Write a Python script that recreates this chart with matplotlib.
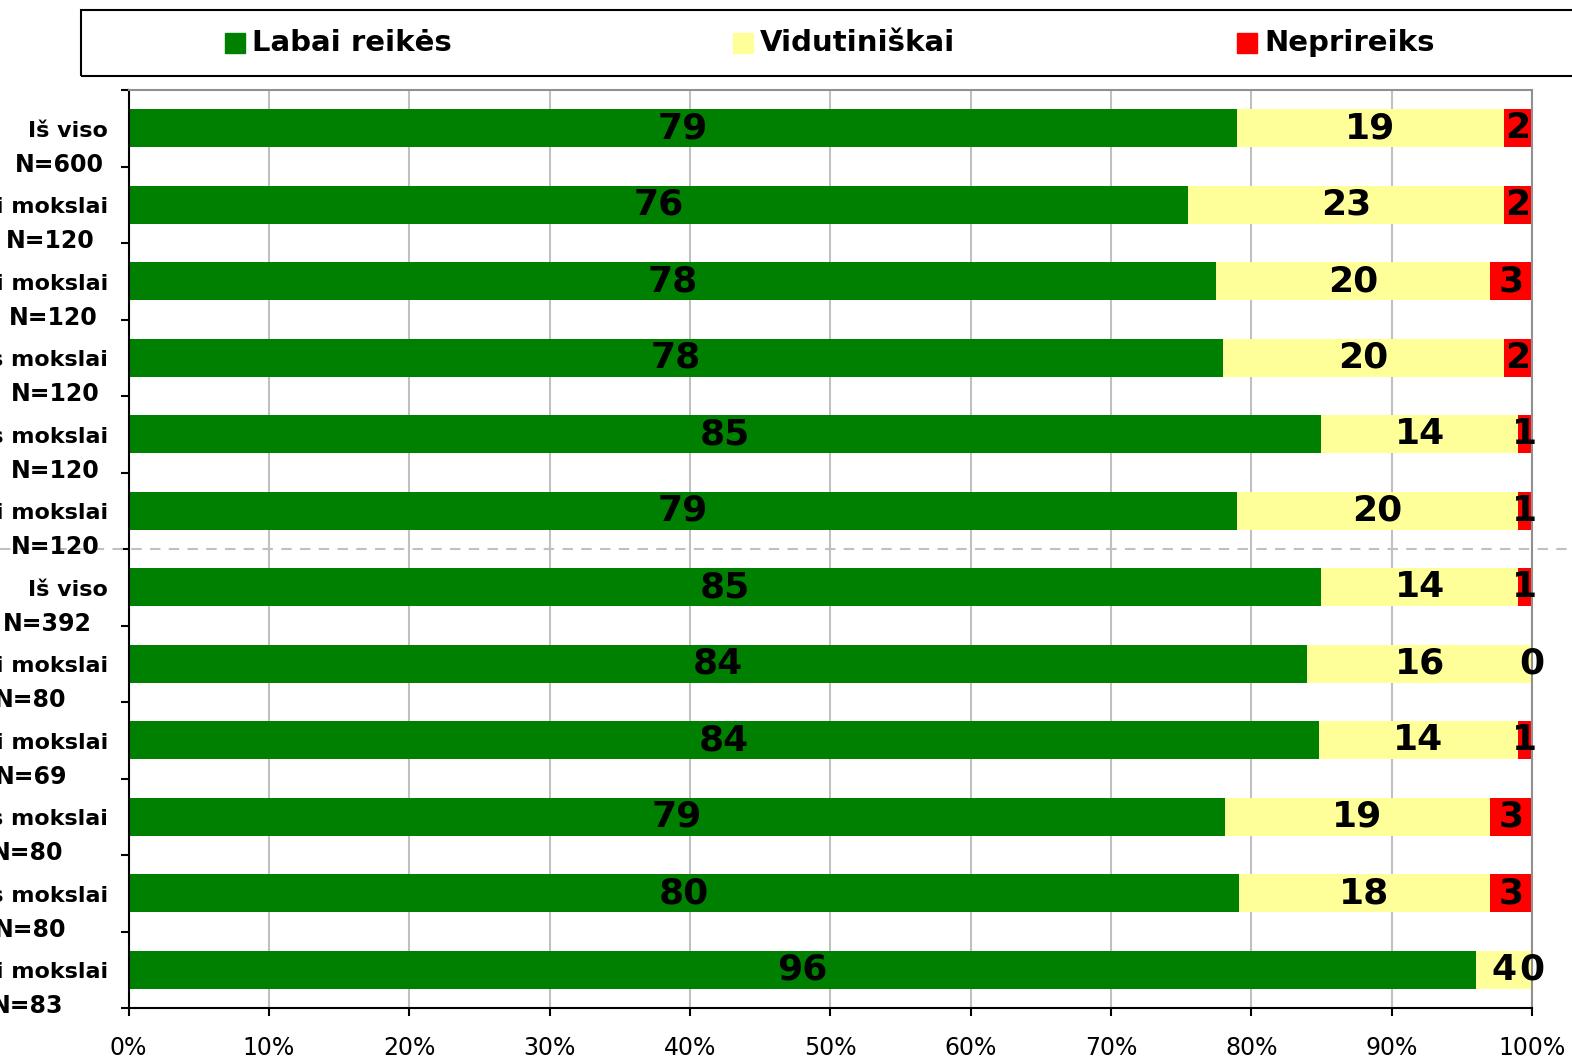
import matplotlib
matplotlib.use("Agg")
import matplotlib.pyplot as plt
from matplotlib.patches import Rectangle
from matplotlib.transforms import offset_copy

# Data
row_names = ["Iš viso", "Humanitariniai mokslai", "Socialiniai mokslai",
             "Biomedicinos mokslai", "Technologijos mokslai", "Fiziniai mokslai",
             "Iš viso", "Humanitariniai mokslai", "Socialiniai mokslai",
             "Biomedicinos mokslai", "Technologijos mokslai", "Fiziniai mokslai"]
row_n = ["N=600", "N=120", "N=120", "N=120", "N=120", "N=120",
         "N=392", "N=80", "N=69", "N=80", "N=80", "N=83"]

series = ["Labai reikės", "Vidutiniškai", "Neprireiks"]
colors = ["#008000", "#FFFF99", "#FF0000"]

# bar lengths (%)
labai = [79.0, 75.5, 77.5, 78.0, 85.0, 79.0, 85.0, 84.0, 84.8, 78.1, 79.1, 96.0]
vidut = [19.0, 22.5, 19.5, 20.0, 14.0, 20.0, 14.0, 16.0, 14.2, 18.9, 17.9, 4.0]
nepri = [2.0, 2.0, 3.0, 2.0, 1.0, 1.0, 1.0, 0.0, 1.0, 3.0, 3.0, 0.0]

# printed (rounded) labels
labai_lbl = [79, 76, 78, 78, 85, 79, 85, 84, 84, 79, 80, 96]
vidut_lbl = [19, 23, 20, 20, 14, 20, 14, 16, 14, 19, 18, 4]
nepri_lbl = [2, 2, 3, 2, 1, 1, 1, 0, 1, 3, 3, 0]

W, H = 1572, 1059
fig = plt.figure(figsize=(W / 100, H / 100), dpi=100)
ax = fig.add_axes([128.5 / W, 1 - 1008 / H, 1403.5 / W, (1008 - 90) / H])

y = list(range(len(row_names)))
left = [0] * len(y)
blocks = [(labai, labai_lbl), (vidut, vidut_lbl), (nepri, nepri_lbl)]
for (vals, lbls), col, name in zip(blocks, colors, series):
    bars = ax.barh(y, vals, left=left, height=0.5, color=col, label=name, zorder=2)
    ax.bar_label(bars, labels=[str(v) for v in lbls], label_type="center",
                 fontsize=26, fontweight="bold", color="black", zorder=3)
    left = [a + b for a, b in zip(left, vals)]

ax.set_xlim(0, 100)
ax.set_ylim(len(y) - 0.5, -0.5)
ax.set_xticks(range(0, 101, 10))
ax.set_xticklabels([f"{v}%" for v in range(0, 101, 10)], fontsize=17)
ax.set_yticks([i - 0.5 for i in range(len(y) + 1)])
ax.set_yticklabels([])
ax.tick_params(axis="both", direction="out", length=6, width=1.5, color="black")
ax.tick_params(axis="x", pad=14)
ax.grid(axis="x", color="#c0c0c0", linewidth=1.5, zorder=0)
ax.set_axisbelow(True)

for s in ["left", "bottom"]:
    ax.spines[s].set_color("black")
    ax.spines[s].set_linewidth(1.5)
for s in ["top", "right"]:
    ax.spines[s].set_color("#909090")
    ax.spines[s].set_linewidth(1.5)

# two-line row labels
n_right_px = [104, 95, 98, 100, 100, 100, 92, 66, 67, 63, 66, 63]
trans = ax.get_yaxis_transform()
t2 = offset_copy(trans, fig=fig, y=-34, units="dots")
for i, (name, n) in enumerate(zip(row_names, row_n)):
    ax.text((108 - 128.5) / 1403.5, i + 0.03, name, transform=trans, ha="right",
            va="center", fontsize=16, fontweight="bold", clip_on=False)
    ax.text((n_right_px[i] - 128.5) / 1403.5, i + 0.03, n, transform=t2, ha="right",
            va="center", fontsize=17, fontweight="bold", clip_on=False)

# dashed separator between groups
ax.axhline(5.5, xmin=-128.5 / 1403.5, xmax=(W - 128.5) / 1403.5, color="#c0c0c0",
           linestyle=(0, (5, 4)), linewidth=1.5, clip_on=False, zorder=1)

# legend box
fig.add_artist(Rectangle((81 / W, 1 - 76 / H), (W + 20 - 81) / W, 66 / H,
                         transform=fig.transFigure, fill=False, ec="black",
                         lw=1.5, clip_on=False))
for x0, col, name in zip([225, 733, 1237], colors, series):
    fig.add_artist(Rectangle((x0 / W, 1 - 53 / H), 20 / W, 20 / H,
                             transform=fig.transFigure, color=col))
    fig.text((x0 + 27) / W, 1 - 43 / H, name, ha="left", va="center",
             fontsize=21, fontweight="bold")

fig.savefig("out.png", dpi=100)
